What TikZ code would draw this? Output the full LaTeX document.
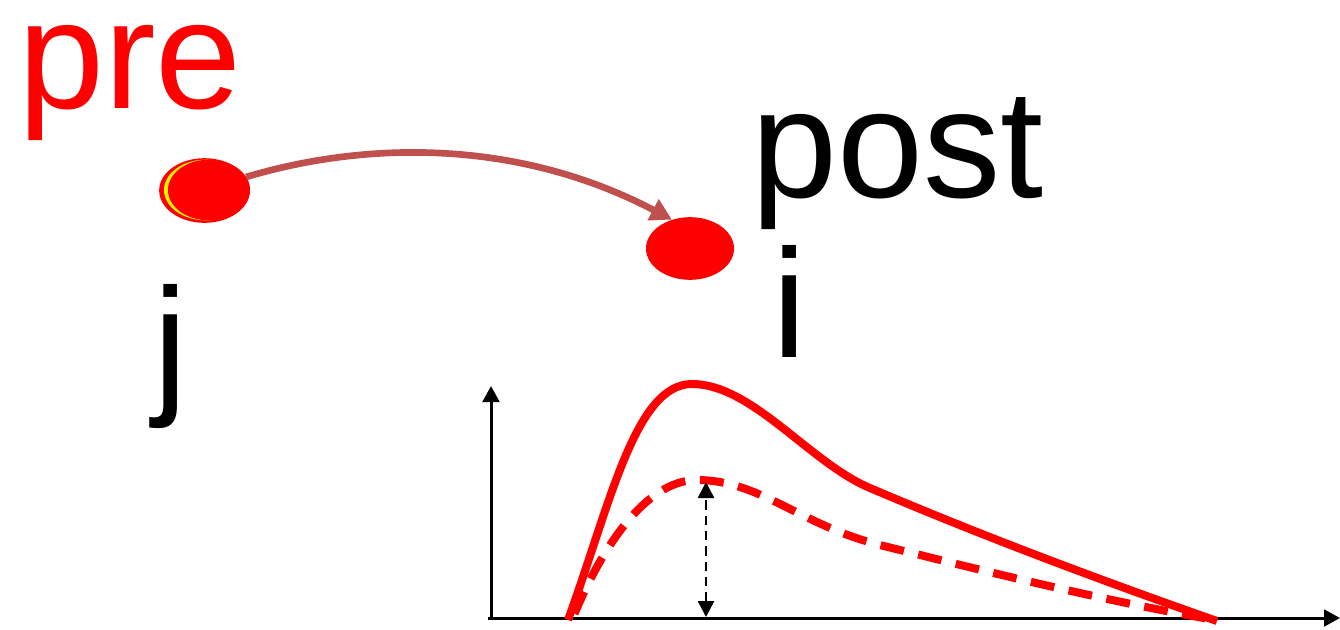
\documentclass[tikz,border=0pt]{standalone}
\usepackage{fontspec}
\setmainfont{Liberation Sans}
\usetikzlibrary{shapes.geometric,arrows.meta}
\definecolor{arrowred}{RGB}{192,80,77}
\tikzset{
  bigtext/.style={font=\fontsize{116}{116}\selectfont, inner sep=0pt, anchor=base west, text height=0.55em, text depth=0.21em},
  neuron/.style={ellipse, fill=red, draw=none, inner sep=0pt},
  axis/.style={line width=2.25pt, -{Triangle[width=12.5pt,length=12pt]}},
  curvesolid/.style={red, line width=6pt},
  curvedash/.style={red, line width=6pt, dash pattern=on 18pt off 11pt, dash phase=24pt},
  meas/.style={line width=2pt, dash pattern=on 7pt off 4.5pt, {Triangle[width=12pt,length=12pt]}-{Triangle[width=12pt,length=12pt]}},
  syn/.style={arrowred, line width=5pt, -{Triangle[width=17pt,length=16pt]}}
}
\begin{document}
\begin{tikzpicture}[x=0.75pt,y=-0.75pt]
\useasboundingbox (0,0) rectangle (1340,629);
% texts
\node[bigtext, text=red] (tpre) at (18,108) {pre};
\node[bigtext] (tpost) at (751,197) {post};
\node[bigtext] (tj) at (153,396) {j};
\node[bigtext] (ti) at (772,357) {i};
% neurons
\node[neuron, minimum width=68pt, minimum height=48.5pt] (pre) at (204.5,190.5) {};
\node[fill=yellow, ellipse, inner sep=0pt, minimum width=63pt, minimum height=45.5pt] (preglint) at (206,190) {};
\node[neuron, minimum width=61.5pt, minimum height=45.5pt] (precore) at (209,190) {};
\node[neuron, minimum width=66pt, minimum height=47pt] (post) at (690,248.5) {};
% synapse arrow
\draw[syn] (pre.18) .. controls (370,140) and (520,140) .. (post.122);
% axes
\coordinate (ytop) at (491,386);
\coordinate (xend) at (1340,618);
\draw[axis] (488,618) -- (xend);
\draw[axis] (491,620) -- (ytop);
% PSP curves
\draw[curvesolid] (568,620) .. controls (610,505) and (635,384) .. (692,384)
  .. controls (752,384) and (810,463) .. (870,488)
  .. controls (980,535) and (1100,580) .. (1217,621);
\draw[curvedash] (572,620) .. controls (600,550) and (645,480) .. (697,480)
  .. controls (760,480) and (800,525) .. (880,545)
  .. controls (980,570) and (1100,600) .. (1215,620);
% amplitude arrow
\coordinate (peak) at (706,482);
\coordinate (base) at (706,617);
\draw[meas] (base) -- (peak);
\end{tikzpicture}
\end{document}
